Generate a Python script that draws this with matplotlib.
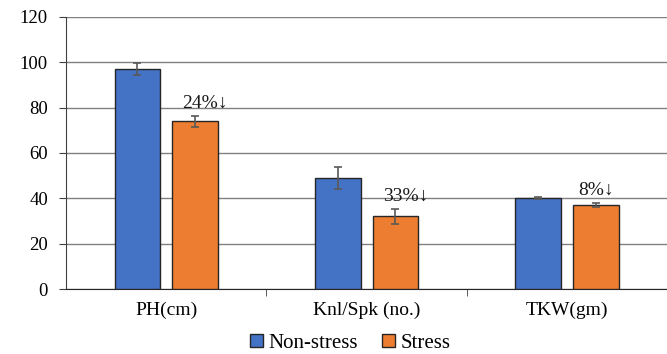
import numpy as np
import matplotlib.pyplot as plt
from matplotlib.patches import Patch

# traits and values
traits = ['PH(cm)', 'Knl/Spk (no.)', 'TKW(gm)']
non_stress = [97, 49, 40.2]
non_stress_err = [2.5, 4.8, 0.5]
stress = [74, 32, 37]
stress_err = [2.4, 3.5, 1.0]
drop_labels = ['24%\u2193', '33%\u2193', '8%\u2193']

blue = '#4472C4'
orange = '#ED7D31'
serif = ['Liberation Serif', 'DejaVu Sans']

fig = plt.figure(figsize=(6.67, 3.54), dpi=100)
ax = fig.add_axes([0.099, 0.1836, 0.91, 0.7684])

x = np.arange(len(traits))
w = 0.228
off = 0.144

ax.bar(x - off, non_stress, w, yerr=non_stress_err, color=blue,
       edgecolor='#262626', linewidth=1.0, zorder=3,
       error_kw=dict(ecolor='#595959', capsize=3, elinewidth=1.2, capthick=1.2))
ax.bar(x + off, stress, w, yerr=stress_err, color=orange,
       edgecolor='#262626', linewidth=1.0, zorder=3,
       error_kw=dict(ecolor='#595959', capsize=3, elinewidth=1.2, capthick=1.2))

# percent reduction labels above the stress bars
shift = [0.05, 0.05, 0.0]
for i in range(len(traits)):
    ax.text(x[i] + off + shift[i], stress[i] + stress_err[i] + 1.8, drop_labels[i],
            ha='center', va='bottom', fontsize=14, family=serif, color='#1a1a1a')

ax.set_ylim(0, 120)
ax.set_yticks(np.arange(0, 121, 20))
ax.set_xlim(-0.5, 2.53)
ax.set_xticks(x)
ax.set_xticklabels(traits, family=serif, fontsize=14)
ax.set_xticks([0.5, 1.5], minor=True)
ax.tick_params(axis='x', which='major', length=0, pad=9)
ax.tick_params(axis='x', which='minor', length=5, color='#404040')
ax.tick_params(axis='y', length=5, color='#404040', pad=8)
for lab in ax.get_yticklabels():
    lab.set_family(serif)
    lab.set_fontsize(13.5)

ax.grid(axis='y', color='#808080', linewidth=1.0, zorder=0)
ax.set_axisbelow(True)
for s in ['top', 'right']:
    ax.spines[s].set_visible(False)
ax.spines['left'].set_color('#404040')
ax.spines['bottom'].set_color('#262626')

handles = [Patch(facecolor=blue, edgecolor='#262626', label='Non-stress'),
           Patch(facecolor=orange, edgecolor='#262626', label='Stress')]
fig.legend(handles=handles, loc='center', bbox_to_anchor=(0.525, 0.03), ncol=2,
           frameon=False, prop={'family': serif, 'size': 15},
           handlelength=0.6, handleheight=0.6, handletextpad=0.25, columnspacing=1.2)

fig.savefig('out.png', dpi=100)
